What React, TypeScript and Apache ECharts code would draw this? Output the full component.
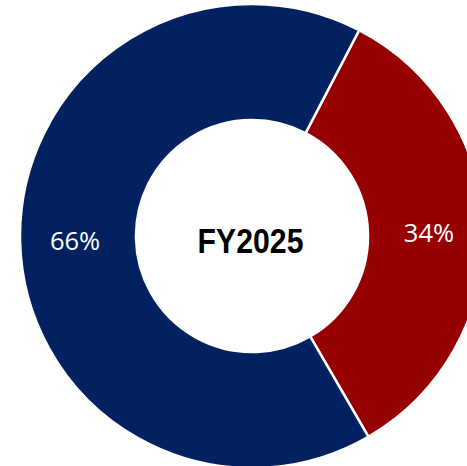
import React, { useEffect, useRef } from "react";
import * as echarts from "echarts";

const categories = ["Segment B", "Segment A"];
const values = [34, 66];
const colors = ["#960000", "#022160"];
const centerLabel = "FY2025";

export default function App() {
  const ref = useRef<HTMLDivElement>(null);
  useEffect(() => {
    if (!ref.current) return;
    const chart = echarts.init(ref.current, undefined, { renderer: "svg" });
    chart.setOption({
      animation: false,
      backgroundColor: "#ffffff",
      graphic: [
        {
          type: "text",
          x: 250.5,
          y: 241,
          scaleX: 0.84,
          style: {
            text: centerLabel,
            fill: "#000000",
            font: "bold 36px 'Liberation Sans', Arial, sans-serif",
            align: "center",
            verticalAlign: "middle",
          },
          z: 100,
        },
      ],
      series: [
        {
          type: "pie",
          center: [252, 236],
          radius: [116, 232],
          startAngle: 62.5,
          clockwise: true,
          avoidLabelOverlap: false,
          emphasis: { disabled: true },
          itemStyle: { borderColor: "#ffffff", borderWidth: 2.5 },
          label: {
            show: true,
            position: "inside",
            color: "#ffffff",
            fontFamily: "'Open Sans', sans-serif",
            fontSize: 25.5,
            formatter: (p: any) => `${Math.round(p.percent)}%`,
          },
          labelLine: { show: false },
          data: categories.map((name, i) => ({
            name,
            value: values[i],
            itemStyle: { color: colors[i] },
          })),
        },
      ],
    });
    return () => chart.dispose();
  }, []);
  return (
    <div
      ref={ref}
      style={{ position: "absolute", left: 0, top: 0, width: 467, height: 466 }}
    />
  );
}
